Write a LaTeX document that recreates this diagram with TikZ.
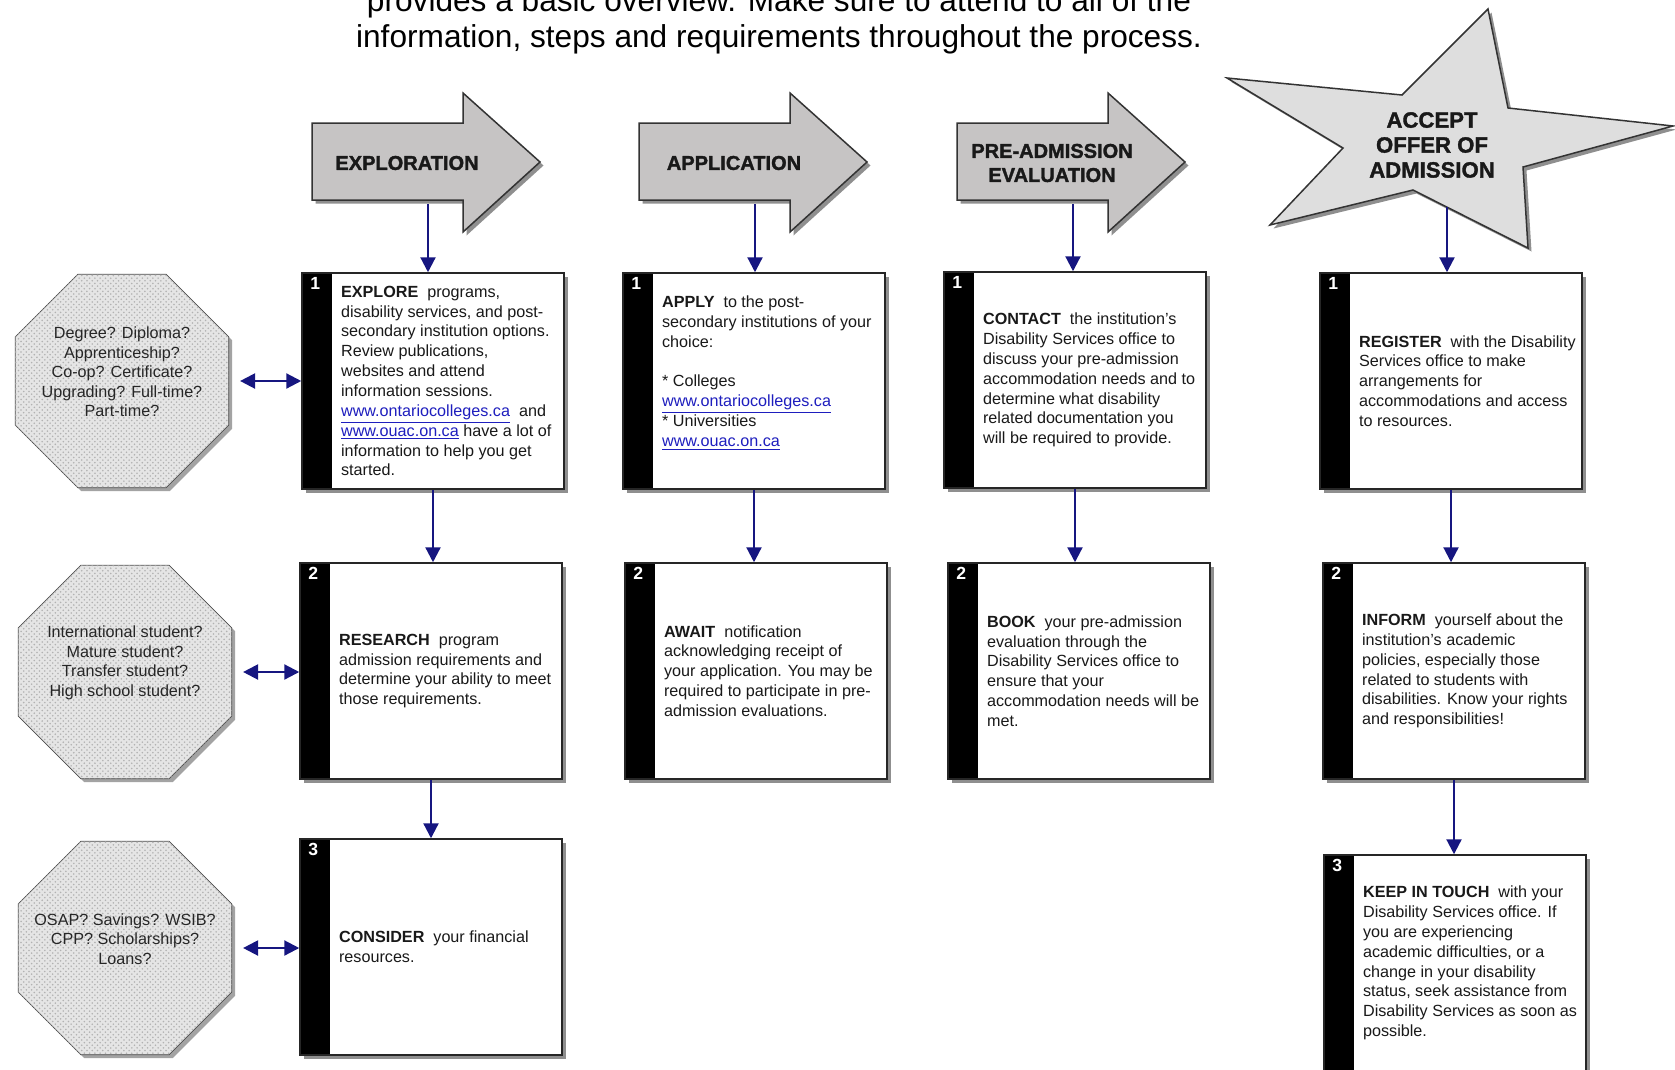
\documentclass[tikz,border=0pt]{standalone}
\usepackage{fontspec}
\setmainfont{Liberation Sans}
\newfontfamily\phasefont{Liberation Sans}[BoldFeatures={FakeBold=1.6}]
\usetikzlibrary{arrows.meta,shapes.geometric,shadows,patterns}

\definecolor{flowblue}{RGB}{22,22,128}
\definecolor{urlblue}{RGB}{30,30,190}
\definecolor{phasegray}{RGB}{198,196,196}
\definecolor{stargray}{RGB}{222,222,222}
\newcommand{\weblink}[1]{{\color{urlblue}\underline{#1}}}

\tikzset{
  card/.style={draw=black!85, line width=0.3mm, fill=white, minimum width=52.4mm, minimum height=43.2mm, inner sep=0pt,
    drop shadow={shadow xshift=0.7mm, shadow yshift=-0.7mm, fill=black!55, opacity=0.8},
    path picture={\fill[black] (path picture bounding box.north west) rectangle ([xshift=6mm]path picture bounding box.south west);}},
  cardtext/.style={anchor=west, align=left, inner sep=0pt, text=black!90, font=\fontsize{9.2}{11.3}\selectfont},
  numtag/.style={text=white, inner sep=0pt, font=\fontsize{10}{10}\selectfont\bfseries},
  octagon/.style={regular polygon, regular polygon sides=8, minimum size=46.2mm, inner sep=0pt, draw=black!70, fill=gray!20,
    postaction={pattern=crosshatch dots, pattern color=gray!60},
    drop shadow={shadow xshift=0.7mm, shadow yshift=-0.7mm, fill=black!45, opacity=0.8}},
  octtext/.style={align=center, inner sep=0pt, text=black!85, font=\fontsize{9.2}{11.1}\selectfont},
  phase/.style={draw=black!80, line width=0.3mm, fill=phasegray,
    drop shadow={shadow xshift=0.7mm, shadow yshift=-0.7mm, fill=black!55, opacity=0.8}},
  phasetext/.style={align=center, text=black!90, font=\fontsize{11.4}{13.7}\selectfont\phasefont\bfseries},
  link/.style={flowblue, line width=0.45mm, -{Triangle[width=3mm,length=3mm]}},
  twoway/.style={flowblue, line width=0.45mm, {Triangle[width=3mm,length=3mm]}-{Triangle[width=3mm,length=3mm]}},
}

\begin{document}
\begin{tikzpicture}[x=0.2mm, y=-0.2mm]
	\useasboundingbox (0,0) rectangle (1675,1069);
	\clip (0,0) rectangle (1675,1069);
	% heading, cut at the top
	\node[align=center, font=\fontsize{18}{20.5}\selectfont] (title) at (779,21) {provides a basic overview. Make sure to attend to all of the\\information, steps and requirements throughout the process.};
	% phase arrows
	\foreach \x/\n/\lab in {312/ex/EXPLORATION, 639/ap/APPLICATION, 957/pa/{PRE-ADMISSION\\EVALUATION}} {
		\draw[phase] (\x,123) -- (\x+151,123) -- (\x+151,93) -- (\x+228,162) -- (\x+151,232) -- (\x+151,200) -- (\x,200) -- cycle;
		\node[phasetext] (\n0) at (\x+95,163) {\lab};
		\coordinate (\n-out) at (\x+116,204);
	}
	% star
	\draw[phase, fill=stargray] (1488,9) -- (1508,108) -- (1673,126) -- (1523,167) -- (1528,248) -- (1413,190) -- (1270,225) -- (1343,148) -- (1227,78) -- (1402,95) -- cycle;
	\node[phasetext, font=\fontsize{12.6}{14.2}\selectfont\phasefont\bfseries] (ac0) at (1432,145) {ACCEPT\\OFFER OF\\ADMISSION};
	\coordinate (ac-out) at (1447,207);
	% step cards
	\node[card] (ex1) at (433,381) {};
	\node[card] (ex2) at (431,671) {};
	\node[card] (ex3) at (431,947) {};
	\node[card] (ap1) at (754,381) {};
	\node[card] (ap2) at (756,671) {};
	\node[card] (pa1) at (1075,380) {};
	\node[card] (pa2) at (1079,671) {};
	\node[card] (ac1) at (1451,381) {};
	\node[card] (ac2) at (1454,671) {};
	\node[card] (ac3) at (1455,963) {};
	\foreach \b/\k in {ex1/1, ex2/2, ex3/3, ap1/1, ap2/2, pa1/1, pa2/2, ac1/1, ac2/2, ac3/3} {
		\node[numtag] (\b n) at ([xshift=2.8mm,yshift=-2.2mm]\b.north west) {\k};
	}
	% card texts
	\node[cardtext] (ex1t) at ([xshift=7.9mm]ex1.west) {\textbf{EXPLORE}~ programs,\\disability services, and post-\\secondary institution options.\\Review publications,\\websites and attend\\information sessions.\\\weblink{www.ontariocolleges.ca}~ and\\\weblink{www.ouac.on.ca} have a lot of\\information to help you get\\started.};
	\node[cardtext] (ex2t) at ([xshift=7.9mm]ex2.west) {\textbf{RESEARCH}~ program\\admission requirements and\\determine your ability to meet\\those requirements.};
	\node[cardtext] (ex3t) at ([xshift=7.9mm]ex3.west) {\textbf{CONSIDER}~ your financial\\resources.};
	\node[cardtext] (ap1t) at ([xshift=7.9mm,yshift=1.6mm]ap1.west) {\textbf{APPLY}~ to the post-\\secondary institutions of your\\choice:\\[11.3pt]* Colleges\\\weblink{www.ontariocolleges.ca}\\* Universities\\\weblink{www.ouac.on.ca}};
	\node[cardtext] (ap2t) at ([xshift=7.9mm]ap2.west) {\textbf{AWAIT}~ notification\\acknowledging receipt of\\your application. You may be\\required to participate in pre-\\admission evaluations.};
	\node[cardtext] (pa1t) at ([xshift=7.9mm]pa1.west) {\textbf{CONTACT}~ the institution's\\Disability Services office to\\discuss your pre-admission\\accommodation needs and to\\determine what disability\\related documentation you\\will be required to provide.};
	\node[cardtext] (pa2t) at ([xshift=7.9mm]pa2.west) {\textbf{BOOK}~ your pre-admission\\evaluation through the\\Disability Services office to\\ensure that your\\accommodation needs will be\\met.};
	\node[cardtext] (ac1t) at ([xshift=7.9mm]ac1.west) {\textbf{REGISTER}~ with the Disability\\Services office to make\\arrangements for\\accommodations and access\\to resources.};
	\node[cardtext] (ac2t) at ([xshift=7.9mm]ac2.west) {\textbf{INFORM}~ yourself about the\\institution's academic\\policies, especially those\\related to students with\\disabilities. Know your rights\\and responsibilities!};
	\node[cardtext] (ac3t) at ([xshift=7.9mm]ac3.west) {\textbf{KEEP IN TOUCH}~ with your\\Disability Services office. If\\you are experiencing\\academic difficulties, or a\\change in your disability\\status, seek assistance from\\Disability Services as soon as\\possible.};
	% question octagons
	\node[octagon] (oc1) at (122,381) {};
	\node[octagon] (oc2) at (125,672) {};
	\node[octagon] (oc3) at (125,948) {};
	\node[octtext] (oc1t) at ([yshift=1.8mm]oc1.center) {Degree? Diploma?\\Apprenticeship?\\Co-op? Certificate?\\Upgrading? Full-time?\\Part-time?};
	\node[octtext] (oc2t) at ([yshift=1.8mm]oc2.center) {International student?\\Mature student?\\Transfer student?\\High school student?};
	\node[octtext] (oc3t) at ([yshift=1.8mm]oc3.center) {OSAP? Savings? WSIB?\\CPP? Scholarships?\\Loans?};
	% connectors
	\foreach \n in {ex, ap, pa, ac} { \draw[link] (\n-out) -- (\n-out |- \n1.north); }
	\foreach \a/\b in {ex1/ex2, ex2/ex3, ap1/ap2, pa1/pa2, ac1/ac2, ac2/ac3} { \draw[link] (\a.south) -- (\a.south |- \b.north); }
	\foreach \o/\b in {oc1/ex1, oc2/ex2, oc3/ex3} { \draw[twoway, shorten <=2.2mm] (\o.east) -- (\o.east -| \b.west); }
\end{tikzpicture}
\end{document}
